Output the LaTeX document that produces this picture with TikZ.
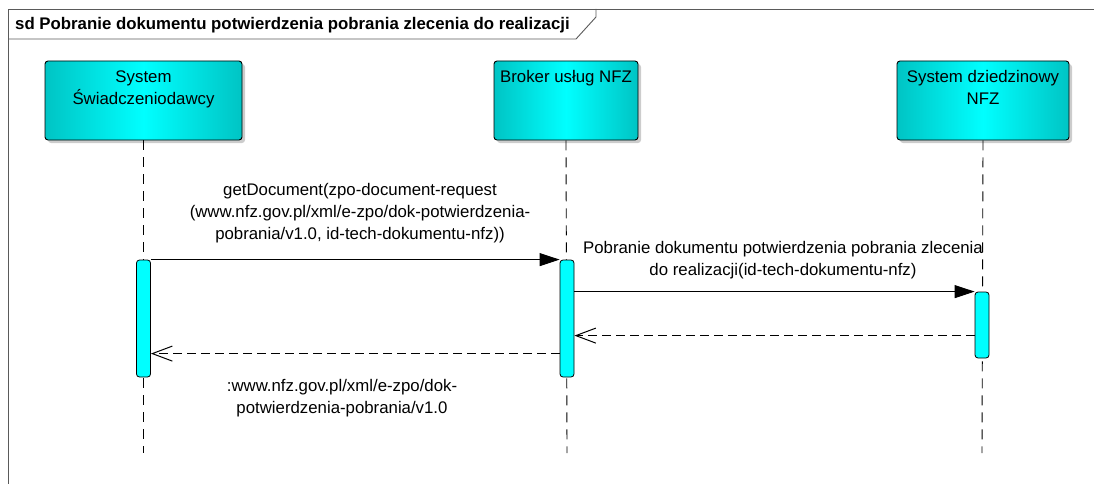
\documentclass[tikz,border=0pt]{standalone}
\usepackage{fontspec}
\setmainfont{Liberation Sans}
\usetikzlibrary{arrows.meta,shadows,calc}
\definecolor{cyanA}{RGB}{0,255,255}
\definecolor{cyanD}{RGB}{0,196,196}
\definecolor{frameC}{RGB}{90,90,90}
\begin{document}
\begin{tikzpicture}[x=1pt,y=-1pt,
  every node/.style={font=\fontsize{16.8}{22}\selectfont},
  partbox/.style={draw=black,line width=0.9pt,rounded corners=3pt,left color=cyanD,right color=cyanD,middle color=cyanA,
     minimum height=79pt,inner sep=0pt,
     drop shadow={shadow xshift=3pt,shadow yshift=-3pt,fill=black!20,opacity=1}},
  parttext/.style={anchor=north,align=center,inner sep=0pt},
  actbox/.style={draw=black,line width=0.8pt,fill=cyanA,rounded corners=3pt,minimum width=14pt,inner sep=0pt},
  lifeline/.style={line width=0.9pt,dash pattern=on 10pt off 7pt},
  syncmsg/.style={line width=0.9pt,-{Triangle[length=20pt,width=13pt]}},
  retmsg/.style={line width=0.9pt,dash pattern=on 9pt off 5pt,-{Straight Barb[length=20pt,width=15pt,line width=1pt]}},
  msglabel/.style={align=center,inner sep=0pt},
  frameline/.style={draw=frameC,line width=0.9pt}
]
\useasboundingbox (0,0) rectangle (1094,484);
% frame
\draw[frameline] (1094,9) -- (8,9) -- (8,484);
\draw[frameline] (8,39) -- (576,39) -- (596,17) -- (596,9);
\node[anchor=west,inner sep=0pt,font=\fontsize{16.8}{20}\selectfont\bfseries] (title) at (15,25) {sd Pobranie dokumentu potwierdzenia pobrania zlecenia do realizacji};

% participants
\node[partbox,minimum width=197pt] (p1) at (143.5,100.5) {};
\node[partbox,minimum width=144pt] (p2) at (566,100.5) {};
\node[partbox,minimum width=172pt] (p3) at (983,100.5) {};
\node[parttext] (p1t) at ($(p1.north)+(0,10)$) {System\\Świadczeniodawcy};
\node[parttext] (p2t) at ($(p2.north)+(0,10)$) {Broker usług NFZ};
\node[parttext] (p3t) at ($(p3.north)+(0,10)$) {System dziedzinowy\\NFZ};

% lifeline ends
\coordinate (e1) at (143.5,453);
\coordinate (e2) at (567,453);
\coordinate (e3) at (982,453);
\draw[lifeline] (p1.south) -- (e1);
\draw[lifeline] (p2.south) -- (e2);
\draw[lifeline] (p3.south) -- (e3);

% activations
\node[actbox,minimum height=117pt] (a1) at (143.5,318.5) {};
\node[actbox,minimum height=117pt] (a2) at (567,318.5) {};
\node[actbox,minimum height=66pt] (a3) at (982,325) {};

% messages
\draw[syncmsg] (a1.north east) -- (a2.north west);
\node[msglabel] (m1) at (360,213) {getDocument(zpo-document-request\\(www.nfz.gov.pl/xml/e-zpo/dok-potwierdzenia-\\pobrania/v1.0, id-tech-dokumentu-nfz))};

\draw[syncmsg] (a2.east |- a3.north) -- (a3.north west);
\node[msglabel] (m2) at (783,260) {Pobranie dokumentu potwierdzenia pobrania zlecenia\\do realizacji(id-tech-dokumentu-nfz)};

\coordinate (r3) at ($(a3.north west)+(0,44)$);
\draw[retmsg] (r3) -- (a2.east |- r3);

\coordinate (r4) at ($(a2.north west)+(0,94)$);
\draw[retmsg] (r4) -- (a1.east |- r4);
\node[msglabel] (m4) at (342,398) {:www.nfz.gov.pl/xml/e-zpo/dok-\\potwierdzenia-pobrania/v1.0};
\end{tikzpicture}
\end{document}
